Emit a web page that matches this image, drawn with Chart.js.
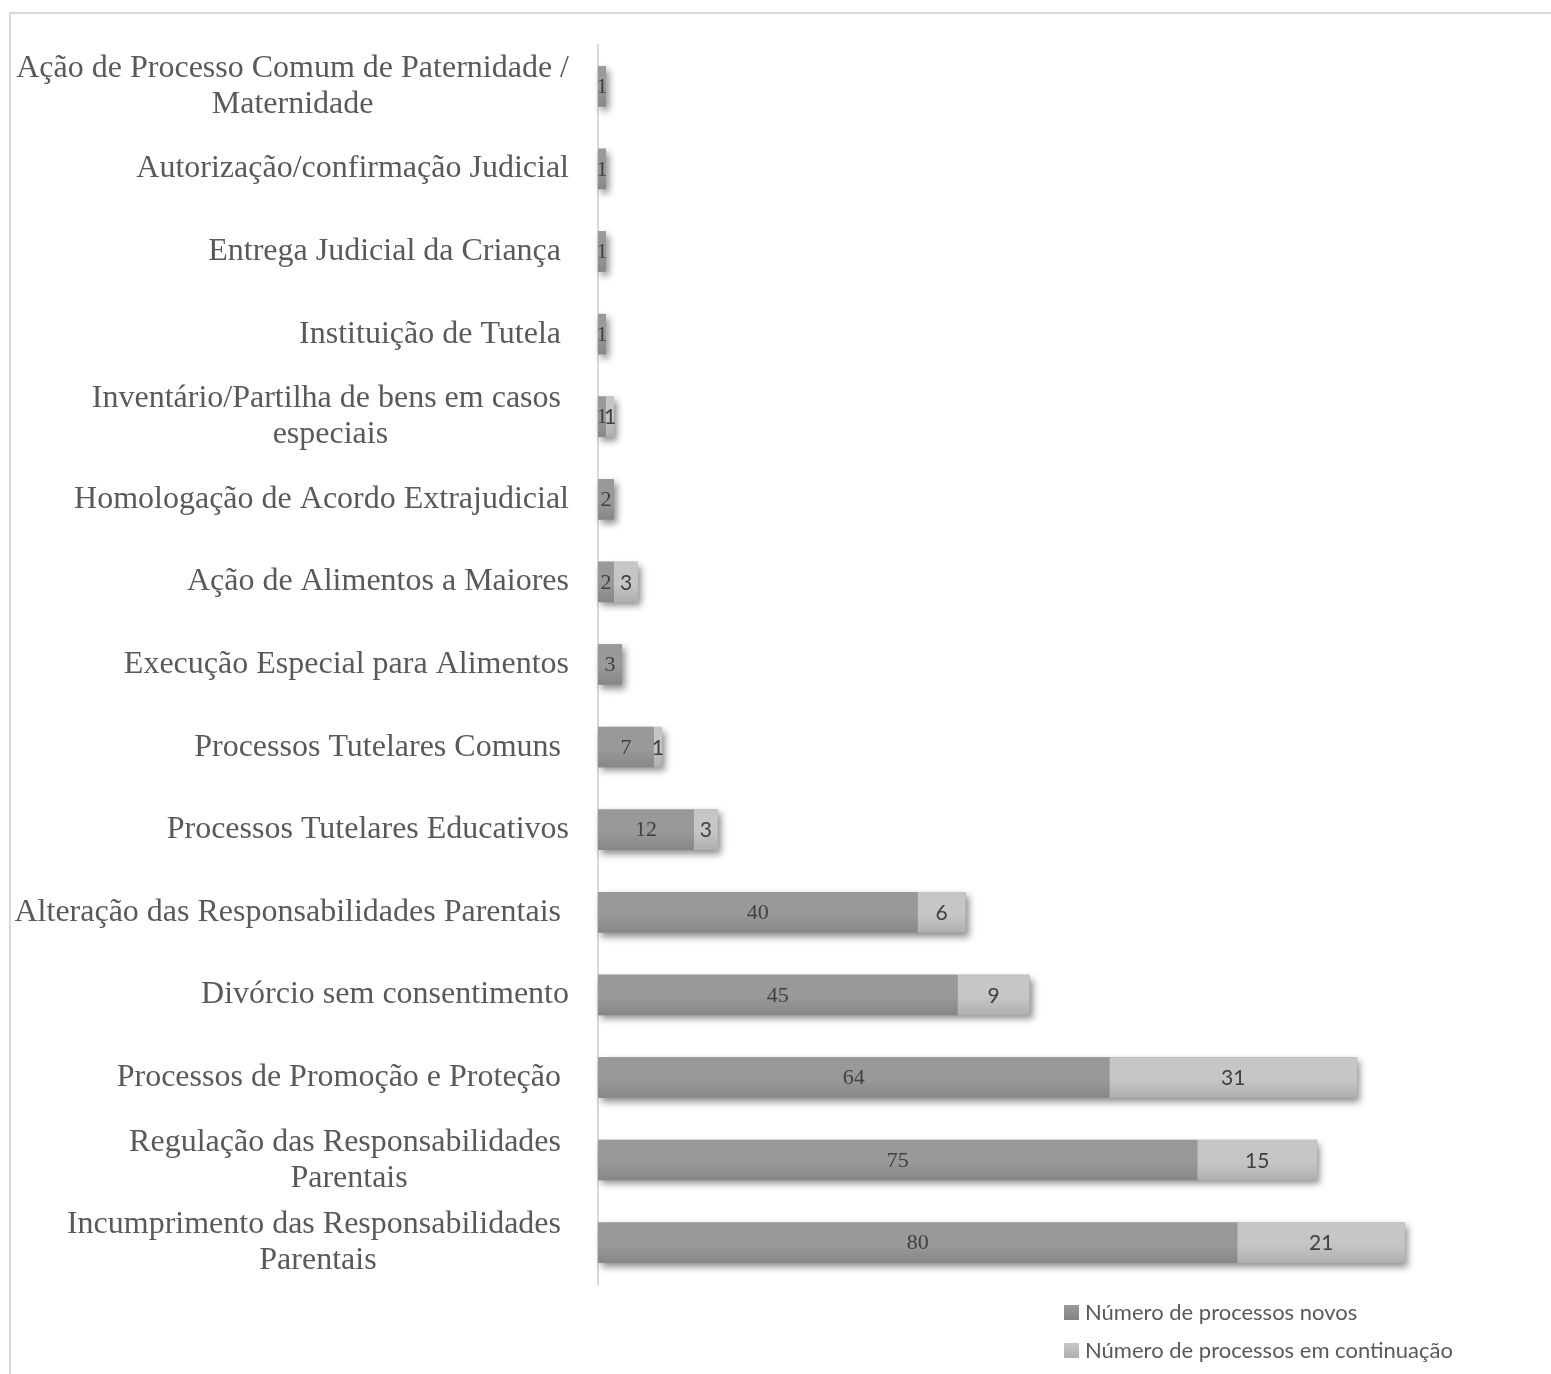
<!DOCTYPE html>
<html>
<head>
<meta charset="utf-8">
<title>Processos</title>
<script src="https://cdn.jsdelivr.net/npm/chart.js@4.4.1/dist/chart.umd.min.js"></script>
<style>
  html, body { margin: 0; padding: 0; background: #fff; }
  #wrap { position: relative; width: 1551px; height: 1374px; }
  #moldura { position: absolute; left: 9px; top: 12px; right: 0; bottom: 0;
    border-top: 2px solid #d9d9d9; border-left: 2px solid #d9d9d9; }
  #grafico { position: absolute; left: 0; top: 0; }
</style>
</head>
<body>
<div id="wrap">
  <div id="moldura"></div>
  <canvas id="grafico" width="1551" height="1374"></canvas>
</div>
<script>
const categorias = [
  ['Ação de Processo Comum de Paternidade /', 'Maternidade'],
  ['Autorização/confirmação Judicial'],
  ['Entrega Judicial da Criança '],
  ['Instituição de Tutela '],
  ['Inventário/Partilha de bens em casos ', 'especiais'],
  ['Homologação de Acordo Extrajudicial'],
  ['Ação de Alimentos a Maiores'],
  ['Execução Especial para Alimentos'],
  ['Processos Tutelares Comuns '],
  ['Processos Tutelares Educativos'],
  ['Alteração das Responsabilidades Parentais '],
  ['Divórcio sem consentimento'],
  ['Processos de Promoção e Proteção '],
  ['Regulação das Responsabilidades ', 'Parentais'],
  ['Incumprimento das Responsabilidades ', 'Parentais']
];
const novos = [1, 1, 1, 1, 1, 2, 2, 3, 7, 12, 40, 45, 64, 75, 80];
const continuacao = [null, null, null, null, 1, null, 3, null, 1, 3, 6, 9, 31, 15, 21];
const nomesSeries = ['Número de processos novos', 'Número de processos em continuação'];

// gradiente vertical de cada barra
function gradiente(topo, base) {
  return function(c) {
    const chart = c.chart;
    const y = chart.scales && chart.scales.y;
    if (!chart.chartArea || !y || y.getPixelForValue(c.dataIndex) == null) return base;
    const meio = y.getPixelForValue(c.dataIndex);
    const g = chart.ctx.createLinearGradient(0, meio - 20, 0, meio + 20);
    g.addColorStop(0, topo);
    g.addColorStop(0.55, topo);
    g.addColorStop(1, base);
    return g;
  };
}

// sombra por baixo de cada pilha
const sombra = {
  id: 'sombra',
  beforeDatasetsDraw(chart) {
    const ctx = chart.ctx;
    const metas = chart.getSortedVisibleDatasetMetas();
    ctx.save();
    ctx.shadowColor = 'rgba(0,0,0,0.45)';
    ctx.shadowBlur = 7;
    ctx.shadowOffsetX = 3;
    ctx.shadowOffsetY = 4;
    ctx.fillStyle = '#999';
    for (let i = 0; i < categorias.length; i++) {
      let esq = Infinity, dir = -Infinity, y = 0, h = 0;
      metas.forEach(function(m) {
        const el = m.data[i];
        const v = chart.data.datasets[m.index].data[i];
        if (!el || v == null) return;
        esq = Math.min(esq, el.base, el.x);
        dir = Math.max(dir, el.base, el.x);
        y = el.y; h = el.height;
      });
      if (dir > esq) ctx.fillRect(esq, y - h / 2, dir - esq, h);
    }
    ctx.restore();
  }
};

// valores dentro das barras
const rotulos = {
  id: 'rotulos',
  afterDatasetsDraw(chart) {
    const ctx = chart.ctx;
    ctx.save();
    ctx.textAlign = 'center';
    ctx.textBaseline = 'middle';
    ctx.fillStyle = '#404040';
    chart.data.datasets.forEach(function(ds, d) {
      const meta = chart.getDatasetMeta(d);
      ctx.font = d === 0 ? '22px "Liberation Serif", serif' : '21px Lato, sans-serif';
      meta.data.forEach(function(el, i) {
        const v = ds.data[i];
        if (v == null) return;
        ctx.fillText(String(v), (el.x + el.base) / 2, el.y + 1);
      });
    });
    ctx.restore();
  }
};

// nomes das categorias e legenda
const textos = {
  id: 'textos',
  afterDraw(chart) {
    const ctx = chart.ctx;
    const y = chart.scales.y;
    ctx.save();
    ctx.font = '32px "Liberation Serif", serif';
    ctx.fillStyle = '#595959';
    ctx.textAlign = 'center';
    ctx.textBaseline = 'middle';
    const direita = y.right - 29;
    const alturaLinha = 36;
    categorias.forEach(function(linhas, i) {
      const larg = Math.max.apply(null, linhas.map(function(l) { return ctx.measureText(l).width; }));
      const cx = direita - larg / 2;
      const cy = y.getPixelForValue(i);
      const y0 = cy - (linhas.length - 1) * alturaLinha / 2;
      linhas.forEach(function(l, k) { ctx.fillText(l, cx, y0 + k * alturaLinha); });
    });

    // legenda
    ctx.font = '22px Lato, sans-serif';
    ctx.textAlign = 'left';
    const cores = [['#9a9a9a', '#858585'], ['#c8c8c8', '#b0b0b0']];
    nomesSeries.forEach(function(nome, k) {
      const ly = 1312 + k * 38;
      const g = ctx.createLinearGradient(0, ly - 7, 0, ly + 7);
      g.addColorStop(0, cores[k][0]);
      g.addColorStop(1, cores[k][1]);
      ctx.fillStyle = g;
      ctx.fillRect(1064, ly - 7, 15, 15);
      ctx.fillStyle = '#595959';
      ctx.fillText(nome, 1085, ly + 1);
    });
    ctx.restore();
  }
};

new Chart(document.getElementById('grafico'), {
  type: 'bar',
  data: {
    labels: categorias.map(function(l) { return l.join(' '); }),
    datasets: [{
      label: nomesSeries[0],
      data: novos,
      backgroundColor: gradiente('#999999', '#878787'),
      barPercentage: 0.49,
      categoryPercentage: 1
    }, {
      label: nomesSeries[1],
      data: continuacao,
      backgroundColor: gradiente('#c6c6c6', '#afafaf'),
      barPercentage: 0.49,
      categoryPercentage: 1
    }]
  },
  options: {
    indexAxis: 'y',
    responsive: false,
    animation: false,
    layout: { padding: { left: 598, top: 45, right: 74, bottom: 90 } },
    plugins: { legend: { display: false }, tooltip: { enabled: false } },
    scales: {
      x: { stacked: true, display: false, min: 0, max: 110 },
      y: {
        stacked: true,
        ticks: { display: false },
        grid: { display: false, drawTicks: false },
        border: { display: true, color: '#d9d9d9', width: 2 }
      }
    }
  },
  plugins: [sombra, rotulos, textos]
});
</script>
</body>
</html>
